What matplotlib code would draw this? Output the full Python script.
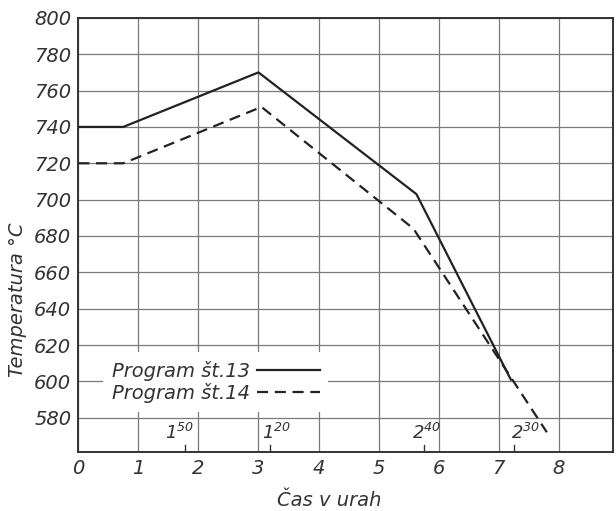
import matplotlib
matplotlib.use("Agg")
import matplotlib.pyplot as plt

# Program 13 (solid) and Program 14 (dashed): time in hours vs temperature
x_p13 = [0, 0.75, 3.0, 5.63, 7.2]
y_p13 = [740, 740, 770, 703, 601]
x_p14 = [0, 0.75, 3.05, 5.58, 7.8]
y_p14 = [720, 720, 751, 684, 572]

# duration notes along the time axis (label, label x, marker x)
notes = ["$1^{50}$", "$1^{20}$", "$2^{40}$", "$2^{30}$"]
note_x = [1.68, 3.3, 5.8, 7.45]
note_marks = [1.77, 3.2, 5.75, 7.25]

yticks = list(range(580, 801, 20))
xticks = list(range(0, 9))

plt.rcParams['font.family'] = 'DejaVu Sans'
plt.rcParams['font.style'] = 'italic'
plt.rcParams['mathtext.fontset'] = 'dejavusans'
plt.rcParams['mathtext.default'] = 'it'

fig = plt.figure(figsize=(6.16, 5.11), dpi=100)
ax = fig.add_axes([0.127, 0.115, 0.868, 0.85])

ink = '#333333'
ax.plot(x_p13, y_p13, color='#222222', lw=1.6, label='Program št.13', zorder=3)
ax.plot(x_p14, y_p14, color='#222222', lw=1.6, ls=(0, (5, 3)), label='Program št.14', zorder=3)

ax.set_xlim(0, 8.9)
ax.set_ylim(561, 800)
ax.set_xticks(xticks)
ax.set_yticks(yticks)
ax.tick_params(length=0, labelsize=14, labelcolor=ink, pad=5)
ax.grid(color='#7a7a7a', lw=0.9)
ax.set_axisbelow(True)
for s in ax.spines.values():
    s.set_color(ink)
    s.set_linewidth(1.4)

for lab, lx, mx in zip(notes, note_x, note_marks):
    ax.text(lx, 566, lab, fontsize=13, color=ink, ha='center', va='bottom')
    ax.plot([mx, mx], [561, 565], color=ink, lw=1.0)

ax.set_xlabel('Čas v urah', fontsize=14, color=ink)
ax.set_ylabel('Temperatura °C', fontsize=14, color=ink)
ax.xaxis.set_label_coords(0.47, -0.09)
ax.yaxis.set_label_coords(-0.095, 0.35)

leg = ax.legend(loc='lower left', bbox_to_anchor=(0.035, 0.08), frameon=True,
                fontsize=14, markerfirst=False, handlelength=3.2,
                borderpad=0.45, labelspacing=0.1, handletextpad=0.4,
                borderaxespad=0.3)
leg.get_frame().set_edgecolor('none')
leg.get_frame().set_facecolor('white')
leg.get_frame().set_alpha(1.0)
for t in leg.get_texts():
    t.set_color(ink)

fig.savefig('out.png', dpi=100)
